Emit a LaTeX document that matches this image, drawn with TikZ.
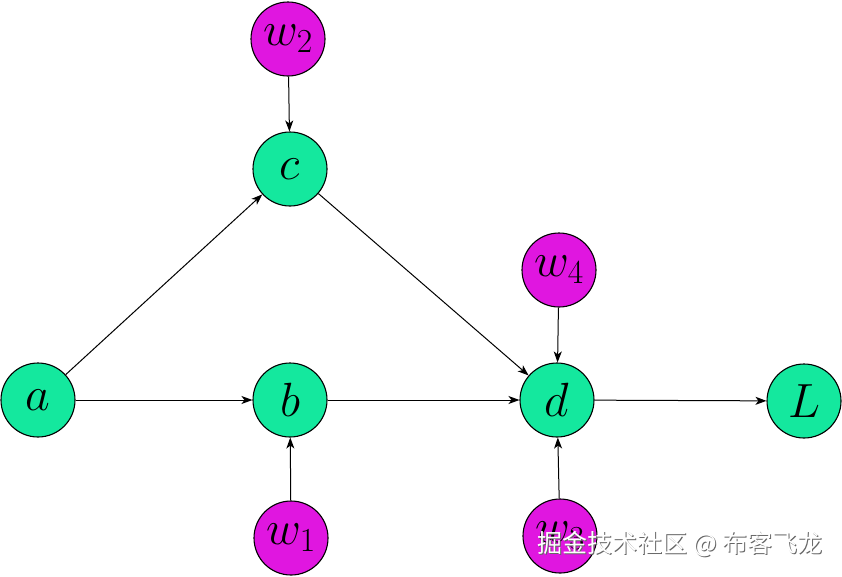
\RequirePackage{fix-cm}
\documentclass[tikz,border=0pt]{standalone}
\usepackage{fontspec}
\newfontfamily\cjk{Noto Sans CJK SC}
\usetikzlibrary{arrows.meta}
\definecolor{nodegreen}{RGB}{20,232,158}
\definecolor{nodemag}{RGB}{224,22,224}
\begin{document}
\begin{tikzpicture}[x=1pt,y=-1pt,
  vnode/.style={circle,draw=black,line width=1.1pt,minimum size=74pt,inner sep=0pt,font=\fontsize{48}{58}\selectfont},
  gnode/.style={vnode,fill=nodegreen},
  mnode/.style={vnode,fill=nodemag},
  edge/.style={draw=black,line width=1pt,-{Stealth[length=11pt,width=8pt,inset=3pt]}}]
\useasboundingbox (0,0) rectangle (842,576);
\node[gnode] (a) at (38,400) {$a$};
\node[gnode] (b) at (290,400) {$b$};
\node[gnode] (c) at (290,169) {$c$};
\node[gnode] (d) at (557,400) {$d$};
\node[gnode] (L) at (804,401) {$L$};
\node[mnode] (w2) at (288,39) {$w_2$};
\node[mnode] (w4) at (559,270) {$w_4$};
\node[mnode] (w1) at (291,538) {$w_1$};
\node[mnode] (w3) at (560,536) {$w_3$};
\draw[edge] (a) -- (c);
\draw[edge] (a) -- (b);
\draw[edge] (b) -- (d);
\draw[edge] (c) -- (d);
\draw[edge] (w2) -- (c);
\draw[edge] (w4) -- (d);
\draw[edge] (w1) -- (b);
\draw[edge] (w3) -- (d);
\draw[edge] (d) -- (L);
\node[font=\cjk\fontsize{25}{30}\selectfont,text=gray!80!black,inner sep=0pt] (wmshadow) at (681,545) {掘金技术社区 @ 布客飞龙};
\node[font=\cjk\fontsize{25}{30}\selectfont,text=white,inner sep=0pt] (wm) at (680,544) {掘金技术社区 @ 布客飞龙};
\end{tikzpicture}
\end{document}
